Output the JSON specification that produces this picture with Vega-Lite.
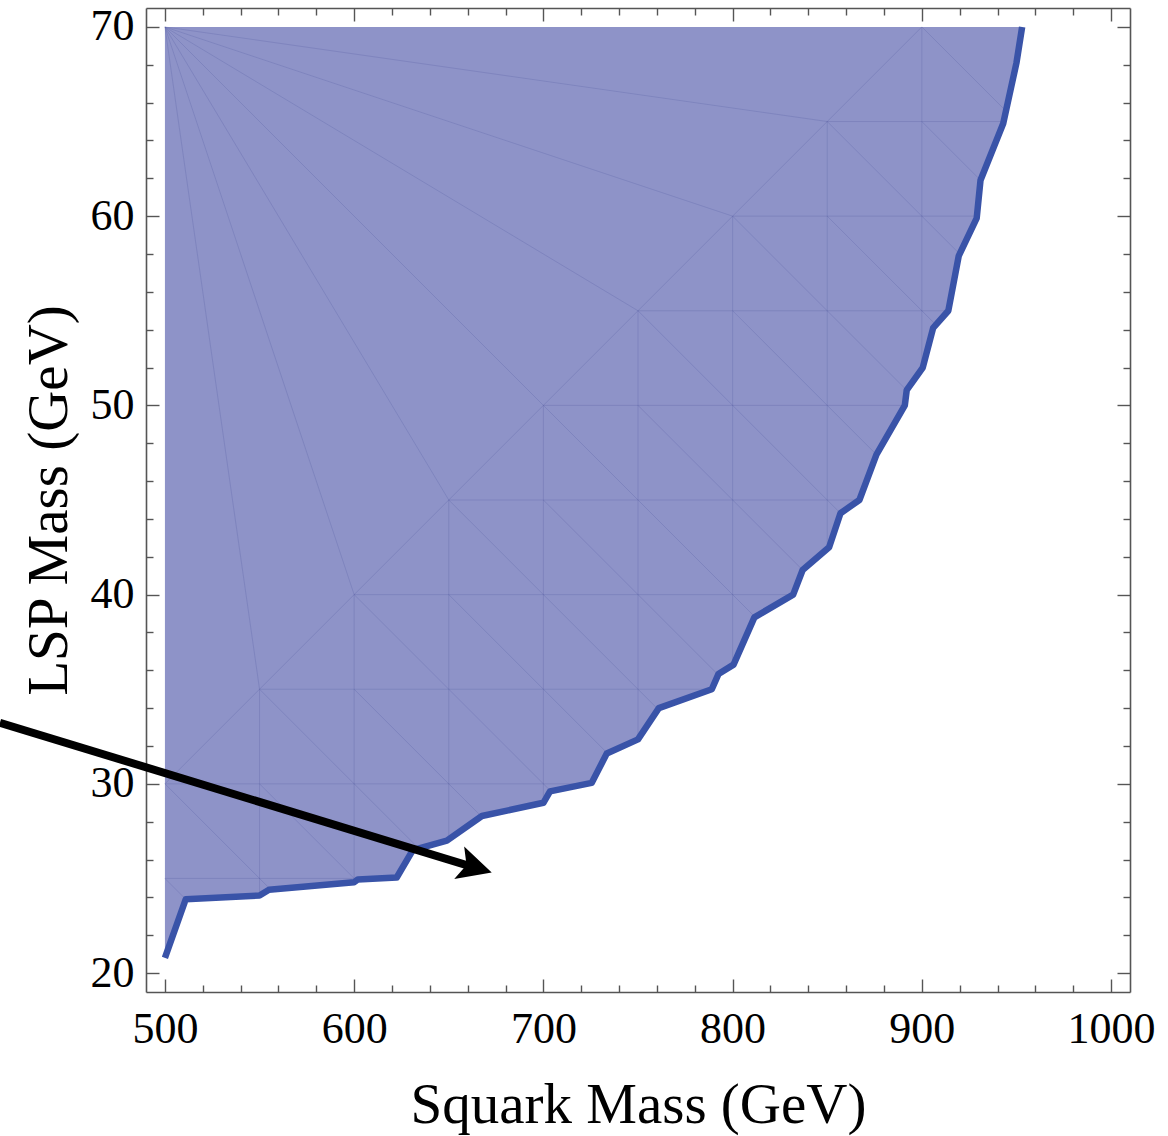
{
  "$schema": "https://vega.github.io/schema/vega-lite/v6.json",
  "width": 984,
  "height": 984,
  "autosize": {"type": "none"},
  "padding": {"left": 146, "top": 8, "right": 38, "bottom": 144},
  "background": "white",
  "config": {
    "view": {"stroke": null},
    "axis": {
      "grid": false,
      "domainColor": "#555555",
      "domainWidth": 1.6,
      "tickColor": "#555555",
      "tickWidth": 1.4,
      "labelFont": "Liberation Serif",
      "labelFontSize": 44,
      "labelColor": "black",
      "labelFlush": false,
      "labelOverlap": false,
      "labelBound": false,
      "titleFont": "Liberation Serif",
      "titleFontSize": 57,
      "titleFontWeight": "normal",
      "titleColor": "black"
    }
  },
  "datasets": {
    "boundary": [
      {"squark": 500, "lsp": 20.8}, {"squark": 511, "lsp": 23.9}, {"squark": 550, "lsp": 24.1},
      {"squark": 555, "lsp": 24.4}, {"squark": 600, "lsp": 24.8}, {"squark": 602, "lsp": 24.95},
      {"squark": 622.5, "lsp": 25.05}, {"squark": 631, "lsp": 26.5}, {"squark": 649, "lsp": 27.0},
      {"squark": 667.5, "lsp": 28.3}, {"squark": 700, "lsp": 29.0}, {"squark": 703.5, "lsp": 29.6},
      {"squark": 725.5, "lsp": 30.05}, {"squark": 733.5, "lsp": 31.6}, {"squark": 750, "lsp": 32.35},
      {"squark": 761, "lsp": 34.0}, {"squark": 789, "lsp": 35.0}, {"squark": 792.5, "lsp": 35.8},
      {"squark": 800.5, "lsp": 36.3}, {"squark": 811.5, "lsp": 38.8}, {"squark": 832, "lsp": 40.0},
      {"squark": 837, "lsp": 41.3}, {"squark": 851, "lsp": 42.5}, {"squark": 857, "lsp": 44.3},
      {"squark": 867, "lsp": 45.0}, {"squark": 876, "lsp": 47.4}, {"squark": 891, "lsp": 50.0},
      {"squark": 892, "lsp": 50.8}, {"squark": 900.5, "lsp": 52.0}, {"squark": 906, "lsp": 54.1},
      {"squark": 914, "lsp": 55.0}, {"squark": 919.5, "lsp": 57.9}, {"squark": 929, "lsp": 59.9},
      {"squark": 931, "lsp": 61.9}, {"squark": 943, "lsp": 64.9}, {"squark": 950, "lsp": 68.1},
      {"squark": 953, "lsp": 70.0}
    ],
    "mesh": [
      {"mx": 500, "my": 25, "mx2": 612, "my2": 25},
      {"mx": 500, "my": 30, "mx2": 723, "my2": 30},
      {"mx": 550, "my": 35, "mx2": 789, "my2": 35},
      {"mx": 600, "my": 40, "mx2": 832, "my2": 40},
      {"mx": 650, "my": 45, "mx2": 867, "my2": 45},
      {"mx": 700, "my": 50, "mx2": 891, "my2": 50},
      {"mx": 750, "my": 55, "mx2": 914, "my2": 55},
      {"mx": 800, "my": 60, "mx2": 929, "my2": 60},
      {"mx": 850, "my": 65, "mx2": 943, "my2": 65},
      {"mx": 550, "my": 35, "mx2": 550, "my2": 24.1},
      {"mx": 600, "my": 40, "mx2": 600, "my2": 24.8},
      {"mx": 650, "my": 45, "mx2": 650, "my2": 27.0},
      {"mx": 700, "my": 50, "mx2": 700, "my2": 29.0},
      {"mx": 750, "my": 55, "mx2": 750, "my2": 32.35},
      {"mx": 800, "my": 60, "mx2": 800, "my2": 36.3},
      {"mx": 850, "my": 65, "mx2": 850, "my2": 42.4},
      {"mx": 900, "my": 70, "mx2": 900, "my2": 51.9},
      {"mx": 500, "my": 25, "mx2": 511, "my2": 23.9},
      {"mx": 500, "my": 30, "mx2": 556, "my2": 24.4},
      {"mx": 550, "my": 30, "mx2": 601, "my2": 24.9},
      {"mx": 550, "my": 35, "mx2": 634, "my2": 26.6},
      {"mx": 600, "my": 35, "mx2": 667, "my2": 28.3},
      {"mx": 600, "my": 40, "mx2": 704, "my2": 29.6},
      {"mx": 650, "my": 40, "mx2": 734, "my2": 31.6},
      {"mx": 650, "my": 45, "mx2": 760, "my2": 34.0},
      {"mx": 700, "my": 45, "mx2": 792, "my2": 35.8},
      {"mx": 700, "my": 50, "mx2": 811, "my2": 38.9},
      {"mx": 750, "my": 50, "mx2": 837, "my2": 41.3},
      {"mx": 750, "my": 55, "mx2": 857, "my2": 44.3},
      {"mx": 800, "my": 55, "mx2": 876, "my2": 47.4},
      {"mx": 800, "my": 60, "mx2": 892, "my2": 50.8},
      {"mx": 850, "my": 60, "mx2": 907, "my2": 54.3},
      {"mx": 850, "my": 65, "mx2": 920, "my2": 58.0},
      {"mx": 900, "my": 65, "mx2": 931, "my2": 61.9},
      {"mx": 900, "my": 70, "mx2": 944, "my2": 65.6},
      {"mx": 500, "my": 30, "mx2": 900, "my2": 70},
      {"mx": 500, "my": 70, "mx2": 550, "my2": 35},
      {"mx": 500, "my": 70, "mx2": 600, "my2": 40},
      {"mx": 500, "my": 70, "mx2": 650, "my2": 45},
      {"mx": 500, "my": 70, "mx2": 700, "my2": 50},
      {"mx": 500, "my": 70, "mx2": 750, "my2": 55},
      {"mx": 500, "my": 70, "mx2": 800, "my2": 60},
      {"mx": 500, "my": 70, "mx2": 850, "my2": 65}
    ],
    "arrow": [
      {"ax": 412.8, "ay": 33.23},
      {"ax": 661.6, "ay": 25.64}
    ],
    "head": [
      {"ax": 672.7, "ay": 25.31}
    ]
  },
  "layer": [
    {
      "data": {"name": "boundary"},
      "mark": {"type": "area", "color": "#8e93c8", "opacity": 1},
      "encoding": {
        "x": {
          "field": "squark", "type": "quantitative",
          "scale": {"domain": [490, 1010], "nice": false, "zero": false},
          "axis": {
            "orient": "bottom",
            "values": [500,520,540,560,580,600,620,640,660,680,700,720,740,760,780,800,820,840,860,880,900,920,940,960,980,1000],
            "format": "d",
            "labelExpr": "datum.value % 100 === 0 ? datum.label : ''",
            "tickSize": {"condition": {"test": "datum.value % 100 === 0", "value": -13}, "value": -7},
            "labelPadding": 28,
            "title": "Squark Mass (GeV)",
            "titleBaseline": "alphabetic",
            "titleX": 492,
            "titleY": 130
          }
        },
        "y": {
          "field": "lsp", "type": "quantitative",
          "scale": {"domain": [19, 71], "nice": false, "zero": false},
          "axis": {
            "orient": "left",
            "values": [20,22,24,26,28,30,32,34,36,38,40,42,44,46,48,50,52,54,56,58,60,62,64,66,68,70],
            "format": "d",
            "labelExpr": "datum.value % 10 === 0 ? datum.label : ''",
            "tickSize": {"condition": {"test": "datum.value % 10 === 0", "value": -13}, "value": -7},
            "labelPadding": 25,
            "title": "LSP Mass (GeV)",
            "titleBaseline": "alphabetic",
            "titleAngle": -90,
            "titleX": -80,
            "titleY": 492
          }
        },
        "y2": {"datum": 70}
      }
    },
    {
      "data": {"name": "mesh"},
      "mark": {"type": "rule", "stroke": "#4a5299", "strokeOpacity": 0.22, "strokeWidth": 1},
      "encoding": {
        "x": {
          "field": "mx", "type": "quantitative",
          "axis": {
            "orient": "top",
            "values": [500,520,540,560,580,600,620,640,660,680,700,720,740,760,780,800,820,840,860,880,900,920,940,960,980,1000],
            "labels": false,
            "title": null,
            "tickSize": {"condition": {"test": "datum.value % 100 === 0", "value": -13}, "value": -7}
          }
        },
        "y": {
          "field": "my", "type": "quantitative",
          "axis": {
            "orient": "right",
            "values": [20,22,24,26,28,30,32,34,36,38,40,42,44,46,48,50,52,54,56,58,60,62,64,66,68,70],
            "labels": false,
            "title": null,
            "tickSize": {"condition": {"test": "datum.value % 10 === 0", "value": -13}, "value": -7}
          }
        },
        "x2": {"field": "mx2"},
        "y2": {"field": "my2"}
      }
    },
    {
      "data": {"name": "boundary"},
      "mark": {"type": "line", "color": "#3953a8", "strokeWidth": 6.5, "strokeJoin": "round"},
      "encoding": {
        "x": {"field": "squark", "type": "quantitative", "axis": null},
        "y": {"field": "lsp", "type": "quantitative", "axis": null}
      }
    },
    {
      "data": {"name": "arrow"},
      "mark": {"type": "line", "color": "black", "strokeWidth": 8, "strokeCap": "butt"},
      "encoding": {
        "x": {"field": "ax", "type": "quantitative", "axis": null},
        "y": {"field": "ay", "type": "quantitative", "axis": null}
      }
    },
    {
      "data": {"name": "head"},
      "mark": {"type": "point", "shape": "M0,0 L-2,-1 L-1.55,0 L-2,1 Z", "size": 1156, "angle": 16.97, "filled": true, "color": "black", "opacity": 1},
      "encoding": {
        "x": {"field": "ax", "type": "quantitative", "axis": null},
        "y": {"field": "ay", "type": "quantitative", "axis": null}
      }
    }
  ]
}
